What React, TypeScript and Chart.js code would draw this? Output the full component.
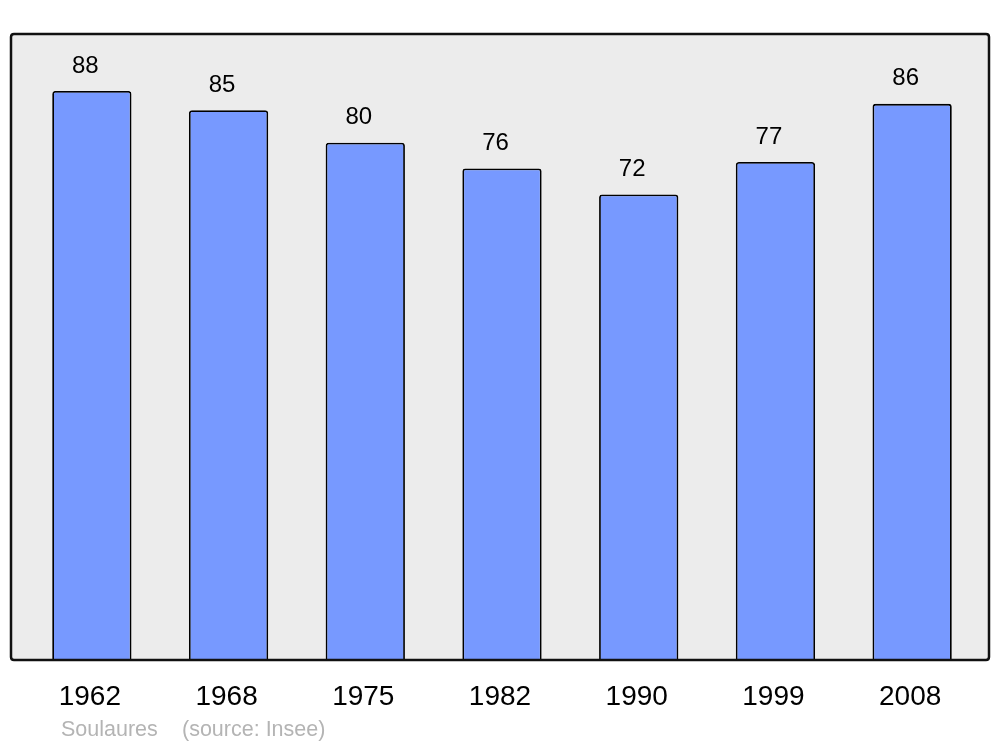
import React, { useEffect, useRef } from "react";
import { Chart, registerables } from "chart.js";

Chart.register(...registerables);

const years = ["1962", "1968", "1975", "1982", "1990", "1999", "2008"];
const population = [88, 85, 80, 76, 72, 77, 86];
const placeName = "Soulaures";
const sourceText = "(source: Insee)";

const FONT = "'Liberation Sans', Arial, sans-serif";

function roundRect(ctx: CanvasRenderingContext2D, x: number, y: number, w: number, h: number, r: number) {
  ctx.beginPath();
  ctx.moveTo(x + r, y);
  ctx.lineTo(x + w - r, y);
  ctx.quadraticCurveTo(x + w, y, x + w, y + r);
  ctx.lineTo(x + w, y + h - r);
  ctx.quadraticCurveTo(x + w, y + h, x + w - r, y + h);
  ctx.lineTo(x + r, y + h);
  ctx.quadraticCurveTo(x, y + h, x, y + h - r);
  ctx.lineTo(x, y + r);
  ctx.quadraticCurveTo(x, y, x + r, y);
  ctx.closePath();
}

const framePlugin = {
  id: "frame",
  beforeDatasetsDraw(chart: any) {
    const { ctx, chartArea } = chart;
    const x0 = chartArea.left - 12.5;
    const x1 = chartArea.right + 8.5;
    const y0 = chartArea.top;
    const y1 = chartArea.bottom;
    ctx.save();
    roundRect(ctx, x0, y0, x1 - x0, y1 - y0, 3);
    ctx.fillStyle = "#ececec";
    ctx.fill();
    ctx.restore();
  },
  afterDatasetsDraw(chart: any) {
    const { ctx, chartArea } = chart;
    const x0 = chartArea.left - 12.5;
    const x1 = chartArea.right + 8.5;
    const y0 = chartArea.top;
    const y1 = chartArea.bottom;
    ctx.save();
    roundRect(ctx, x0, y0, x1 - x0, y1 - y0, 3);
    ctx.strokeStyle = "#111";
    ctx.lineWidth = 2.5;
    ctx.stroke();
    // value labels
    const meta = chart.getDatasetMeta(0);
    ctx.fillStyle = "#000";
    ctx.font = `24px ${FONT}`;
    ctx.textAlign = "center";
    ctx.textBaseline = "middle";
    meta.data.forEach((bar: any, i: number) => {
      ctx.fillText(String(population[i]), bar.x - 6.5, bar.y - 25);
    });
    // footer
    ctx.fillStyle = "#b4b4b4";
    ctx.font = `21.5px ${FONT}`;
    ctx.textAlign = "left";
    ctx.textBaseline = "middle";
    ctx.fillText(placeName, x0 + 50, 730);
    ctx.fillText(sourceText, x0 + 171, 730);
    ctx.restore();
  },
};

export default function App() {
  const ref = useRef<HTMLCanvasElement>(null);
  useEffect(() => {
    document.body.style.margin = "0";
    const chart = new Chart(ref.current!, {
      type: "bar",
      data: {
        labels: years,
        datasets: [
          {
            data: population,
            backgroundColor: "#7799ff",
            borderColor: "#000",
            borderWidth: 1.8,
            borderRadius: 3,
            barPercentage: 0.58,
            categoryPercentage: 1,
          },
        ],
      },
      options: {
        responsive: false,
        animation: false,
        layout: { padding: { top: 34, left: 23.5, right: 19.5, bottom: 0 } },
        plugins: { legend: { display: false }, tooltip: { enabled: false } },
        scales: {
          x: {
            grid: { display: false, drawTicks: false },
            border: { display: false },
            ticks: { color: "#000", font: { size: 28, family: FONT }, padding: 20, labelOffset: -2 },
            afterFit(scale: any) {
              scale.height = 87;
            },
          },
          y: { display: false, min: 0, max: 96.8 },
        },
      },
      plugins: [framePlugin],
    });
    return () => chart.destroy();
  }, []);
  return (
    <div style={{ position: "absolute", left: 0, top: 0, width: 1000, height: 747, background: "#fff" }}>
      <canvas ref={ref} width={1000} height={747} />
    </div>
  );
}
